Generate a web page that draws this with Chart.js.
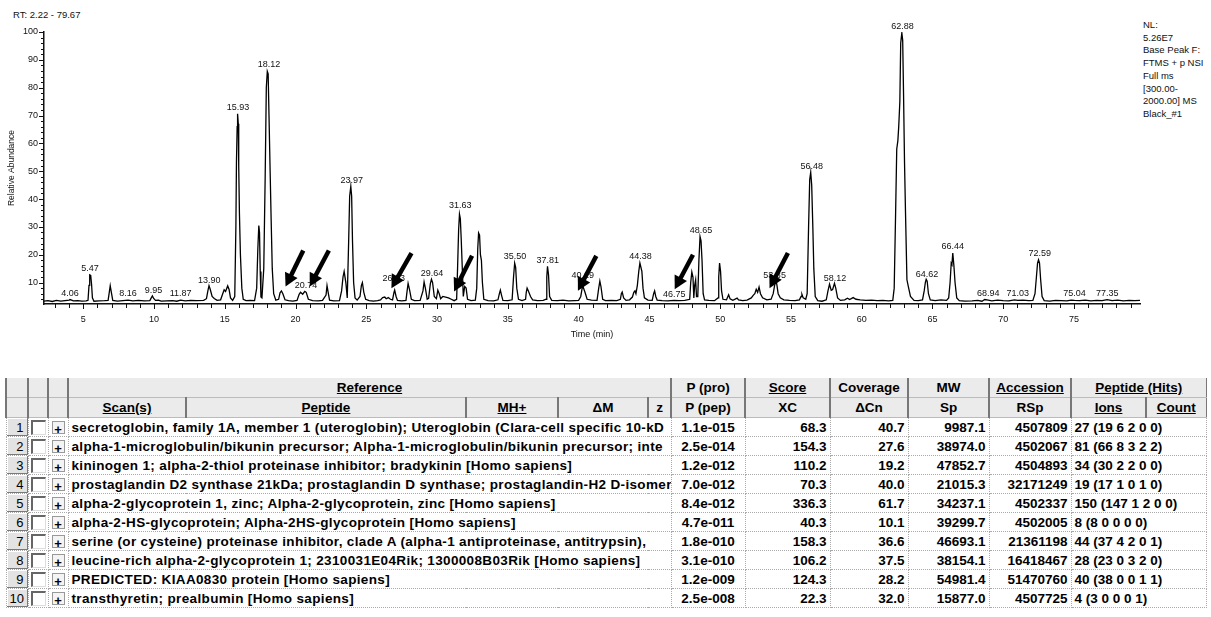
<!DOCTYPE html>
<html>
<head>
<meta charset="utf-8">
<script src="https://cdn.jsdelivr.net/npm/chart.js@4.4.1/dist/chart.umd.min.js"></script>
<style>
    body { margin: 0; background: #fff; width: 1211px; height: 617px; overflow: hidden; position: relative; font-family: "Liberation Sans", Arial, sans-serif; color: #111; }
    #chart-wrap { position: absolute; left: 0; top: 0; width: 1211px; height: 345px; }
    #rt-range { position: absolute; left: 13px; top: 9px; font-size: 9.5px; }
    #nl-info { position: absolute; left: 1143px; top: 19px; font-size: 9.5px; line-height: 12.7px; }
    #prot-table { position: absolute; left: 5px; top: 378px; width: 1200px; border-collapse: collapse; table-layout: fixed; font: bold 13.5px "Liberation Sans", Arial, sans-serif; color: #000; }
    #prot-table td, #prot-table th { padding: 0 3px; white-space: nowrap; overflow: hidden; }
    #prot-table th { background: #ebebeb; height: 19px; border-left: 2px solid #777; border-right: 1px solid #777; border-bottom: 1px solid #bbb; font-weight: bold; text-align: center; }
    #prot-table tr.d td { height: 18px; border: 1px dotted #aaa; }
    #prot-table td.num { background: #e3e3e3; text-align: right; font: 13px "Liberation Sans", Arial, sans-serif; box-shadow: inset -1px -1px #7a7a7a, inset 1px 1px #fff; border: 1px solid #999; padding-right: 4px; }
    #prot-table td.chk, #prot-table td.plus { text-align: center; padding: 0; }
    #prot-table td.name { letter-spacing: 0.35px; }
    .box { display: inline-block; width: 12px; height: 12px; background: #fff; border-top: 2px solid #666; border-left: 2px solid #666; border-right: 1px solid #ddd; border-bottom: 1px solid #ddd; vertical-align: middle; }
    .pl { display: inline-block; width: 11px; height: 11px; line-height: 10px; border: 1px solid #999; background: #f4f4f4; font: bold 13px "Liberation Sans", Arial, sans-serif; vertical-align: middle; }
    td.c { text-align: center; }
    td.r { text-align: right; }
    td.l { text-align: left; }
</style>
</head>
<body>
<div id="rt-range">RT: 2.22 - 79.67</div>
<div id="nl-info">NL:<br>5.26E7<br>Base Peak F:<br>FTMS + p NSI<br>Full ms<br>[300.00-<br>2000.00] MS<br>Black_#1</div>
<div id="chart-wrap"><canvas id="chrom" width="1211" height="345"></canvas></div>
<table id="prot-table"></table>
<script>
/* ── 色谱图数据 (RT 分钟, 相对丰度 %) ── */
const trace = [
    [2.22,3.3],[2.5,3.5],[2.8,3.2],[3.1,3.6],[3.4,3.3],[3.7,3.5],[4.0,3.7],[4.06,3.9],[4.3,3.4],[4.6,3.5],[4.9,3.3],[5.2,3.4],
    [5.33,3.6],[5.4,9],[5.45,12.8],[5.52,12.6],[5.58,9.5],[5.64,4.5],[5.75,3.3],
    [6.1,3.4],[6.5,3.5],[6.75,3.6],[6.82,6],[6.9,8.9],[6.98,6.5],[7.08,3.6],
    [7.4,3.3],[7.8,3.5],[8.16,3.7],[8.5,3.4],[8.9,3.6],[9.3,3.4],[9.7,3.5],
    [9.8,4.5],[9.88,5.2],[9.97,4.3],[10.1,3.6],[10.3,3.7],[10.5,3.3],
    [10.9,3.4],[11.3,3.5],[11.6,3.3],[11.87,3.7],[12.2,3.4],[12.6,3.6],[13.0,3.5],[13.5,3.6],[13.7,4.2],
    [13.8,7],[13.88,8.9],[13.97,7.5],[14.1,5],[14.25,4.3],[14.45,3.6],[14.7,3.8],
    [14.85,6],[14.95,7.4],[15.05,6.8],[15.2,8.8],[15.3,7.5],[15.4,4.5],[15.55,3.6],
    [15.7,5],[15.78,30],[15.82,53],[15.87,66],[15.9,70.6],[15.95,67],[15.98,52],[16.03,35],[16.1,20],[16.2,8],[16.3,4],[16.5,3.5],[16.8,3.6],[17.1,3.5],
    [17.25,8],[17.33,22],[17.4,30.5],[17.45,28],[17.5,14],[17.55,4.8],[17.62,4.5],
    [17.75,15],[17.85,48],[17.93,80],[18.0,85.9],[18.06,85],[18.12,70],[18.2,50],[18.27,33],[18.35,15],[18.45,6],[18.6,3.7],
    [18.8,4],[18.9,6.3],[19.0,7],[19.1,6],[19.25,3.8],[19.5,3.5],[19.8,3.3],[20.1,3.6],
    [20.25,5.8],[20.35,6.5],[20.5,5.8],[20.65,6.8],[20.75,6.5],[20.9,4],[21.2,3.5],[21.6,3.4],[21.9,3.6],
    [22.15,5.5],[22.22,8.9],[22.3,6.5],[22.4,3.7],[22.7,3.4],[23.1,3.5],
    [23.25,7],[23.35,12],[23.43,14],[23.55,10],[23.65,4.5],[23.75,25],[23.82,41],[23.9,44.5],[23.96,41],[24.02,25],[24.1,10],[24.2,4.5],[24.35,3.7],
    [24.55,5],[24.65,9],[24.72,10],[24.82,6.5],[24.95,4],[25.2,3.5],[25.5,3.3],[25.8,3.5],[26.0,3.8],
    [26.15,4.6],[26.3,4.8],[26.4,4.2],[26.55,4.6],[26.7,4],[26.85,3.8],
    [26.95,6.5],[27.0,7.3],[27.1,5],[27.2,3.6],[27.5,3.4],[27.8,3.6],
    [27.88,7],[27.95,9.7],[28.05,7.5],[28.18,4],[28.4,3.5],[28.8,3.6],
    [29.0,7],[29.08,10.2],[29.17,8],[29.3,4],[29.4,4.3],[29.52,9.5],[29.6,11.2],[29.68,10],[29.8,5],[29.95,4.2],[30.05,7.3],[30.15,6],[30.25,4.2],[30.4,5],[30.6,4.8],[30.8,4.5],[31.0,4.0],[31.2,3.5],
    [31.38,4],[31.45,16],[31.52,29],[31.58,34.6],[31.64,33],[31.7,26],[31.78,15],[31.85,5],[31.95,8.6],[32.05,8],[32.15,4],[32.4,3.5],[32.7,3.7],
    [32.8,8],[32.87,22],[32.93,27.8],[33.0,27],[33.06,20],[33.13,18],[33.2,10],[33.3,4],[33.6,3.5],[34.0,3.4],[34.3,3.8],
    [34.4,6],[34.47,7.3],[34.55,5.5],[34.65,3.6],[35.0,3.5],[35.3,3.8],
    [35.4,12],[35.48,17],[35.55,15.5],[35.63,8],[35.75,4],[36.0,3.5],[36.25,4],
    [36.3,6.5],[36.36,8],[36.45,7],[36.6,5],[36.75,3.8],[37.1,3.5],[37.5,3.6],[37.7,4],
    [37.75,12],[37.8,15.8],[37.87,13],[37.95,5],[38.1,3.6],[38.5,3.5],[38.9,3.7],[39.3,3.4],[39.7,3.5],[40.0,3.6],
    [40.15,5],[40.25,8],[40.32,8.4],[40.45,6.5],[40.6,4],[40.9,3.7],[41.3,3.6],
    [41.42,8],[41.5,10.5],[41.58,8.5],[41.7,4],[41.9,3.5],[42.3,3.6],[42.7,3.5],[42.95,4],
    [43.02,6],[43.08,6.6],[43.18,4.5],[43.35,3.6],[43.6,3.8],[43.8,4.8],
    [43.9,6.5],[43.98,7],[44.05,6],[44.15,9],[44.25,14],[44.33,17],[44.4,15.5],[44.47,14],[44.55,8],[44.65,4.5],[44.9,3.7],[45.2,3.6],
    [45.3,6],[45.37,7],[45.45,5],[45.55,3.7],[45.9,3.5],[46.3,3.4],[46.75,3.6],[47.1,3.5],[47.5,3.6],[47.85,4],
    [47.92,10],[48.0,13.8],[48.08,12],[48.14,4.5],[48.2,9],[48.27,11],[48.33,5],[48.42,5],[48.5,18],[48.58,26.5],[48.65,25],[48.72,18],[48.8,6],[48.9,3.8],[49.2,3.6],[49.6,3.5],[49.85,4.5],
    [49.9,12],[49.96,17],[50.03,14],[50.1,7],[50.2,4],[50.45,3.8],[50.6,5.6],[50.7,4.2],[50.9,3.6],[51.2,4.4],[51.3,3.8],[51.6,3.5],[51.9,3.7],[52.2,4.5],
    [52.35,5.5],[52.45,6],[52.55,7.6],[52.65,6.5],[52.75,8.4],[52.85,6],[53.0,4.5],[53.3,3.8],[53.6,4],[53.75,6],
    [53.85,9],[53.93,10.5],[54.0,9.5],[54.1,6],[54.25,4.5],[54.5,3.8],[54.9,3.6],[55.3,3.5],[55.6,3.8],
    [55.72,5],[55.78,5.8],[55.87,4.5],[56.05,4],
    [56.15,6],[56.25,30],[56.33,47],[56.4,49.6],[56.47,45],[56.55,30],[56.62,15],[56.72,5],[56.9,3.5],[57.2,3.3],[57.5,3.8],
    [57.62,7],[57.73,9.4],[57.85,7.2],[57.95,7.5],[58.08,9.7],[58.17,8],[58.3,4.5],[58.5,3.6],[58.8,3.8],[59.0,4.4],[59.15,3.9],[59.4,4.6],[59.6,4],[59.9,3.8],[60.3,3.6],[60.7,3.7],[61.1,3.5],[61.5,3.6],[61.9,3.4],[62.2,3.6],
    [62.3,8],[62.4,35],[62.48,58],[62.56,61],[62.62,66],[62.7,75],[62.76,96],[62.84,99.7],[62.9,97],[62.96,78],[63.03,53],[63.1,35],[63.2,11],[63.3,8.5],[63.45,5],[63.7,3.6],[64.0,3.5],[64.3,3.8],
    [64.42,7],[64.5,10],[64.56,11.2],[64.63,10.5],[64.72,6],[64.85,3.8],[65.2,3.5],[65.6,3.8],[66.0,3.6],[66.15,4.5],
    [66.25,10],[66.33,17],[66.38,16.5],[66.44,20.6],[66.52,16],[66.6,10],[66.72,4.5],[66.9,3.5],[67.3,3.3],[67.8,3.4],[68.2,3.6],[68.5,3.3],[68.7,3.9],[68.94,3.7],[69.2,3.4],[69.6,3.7],[70.0,3.5],[70.4,3.4],[70.8,3.8],[71.03,3.6],[71.4,3.7],[71.8,3.5],[72.1,3.6],[72.25,6],
    [72.35,12],[72.43,17],[72.5,18.2],[72.57,17],[72.65,11],[72.75,5],[72.9,3.5],[73.3,3.3],[73.7,3.6],[74.1,3.5],[74.5,3.4],[74.8,3.7],[75.04,3.6],[75.4,3.5],[75.8,3.7],[76.2,3.4],[76.6,3.6],[77.0,3.5],[77.35,3.9],[77.7,3.5],[78.1,3.7],[78.5,3.4],[78.9,3.6],[79.3,3.5],[79.67,3.6],
];

// 峰标注 (保留时间文字, 峰顶丰度)
const peakLabels = ['4.06','5.47','8.16','9.95','11.87','13.90','15.93','18.12','20.74','23.97','26.93','29.64','31.63','35.50','37.81','40.29','44.38','46.75','48.65','53.85','56.48','58.12','62.88','64.62','66.44','68.94','71.03','72.59','75.04','77.35'];
const peakTops = [3.6, 12.8, 3.6, 4.8, 3.6, 8.4, 70.6, 85.9, 6.6, 44.5, 9.1, 11.0, 35.4, 16.9, 15.6, 10.2, 17.1, 3.5, 26.4, 10.1, 49.5, 9.2, 99.7, 10.6, 20.5, 3.6, 3.6, 18.0, 3.6, 3.6];

// 箭头 (尾 -> 头)
const arrowTailRt = [20.54, 22.35, 28.19, 32.47, 41.25, 48.08, 54.79];
const arrowTailAb = [21.5, 21.5, 20.6, 19.6, 19.6, 20.0, 20.6];
const arrowTipRt = [19.29, 21.0, 26.77, 31.2, 39.95, 46.79, 53.49];
const arrowTipAb = [8.6, 8.6, 8.0, 6.8, 7.1, 7.6, 8.0];

const rtMin = 2.22, rtMax = 79.67;
const abundMin = 2.3, abundMax = 100;

/* ── 蛋白表格数据 ── */
const proteinNames = [
    'secretoglobin, family 1A, member 1 (uteroglobin); Uteroglobin (Clara-cell specific 10-kD',
    'alpha-1-microglobulin/bikunin precursor; Alpha-1-microglobulin/bikunin precursor; inte',
    'kininogen 1; alpha-2-thiol proteinase inhibitor; bradykinin [Homo sapiens]',
    'prostaglandin D2 synthase 21kDa; prostaglandin D synthase; prostaglandin-H2 D-isomer',
    'alpha-2-glycoprotein 1, zinc; Alpha-2-glycoprotein, zinc [Homo sapiens]',
    'alpha-2-HS-glycoprotein; Alpha-2HS-glycoprotein [Homo sapiens]',
    'serine (or cysteine) proteinase inhibitor, clade A (alpha-1 antiproteinase, antitrypsin),',
    'leucine-rich alpha-2-glycoprotein 1; 2310031E04Rik; 1300008B03Rik [Homo sapiens]',
    'PREDICTED: KIAA0830 protein [Homo sapiens]',
    'transthyretin; prealbumin [Homo sapiens]',
];
const pValues = ['1.1e-015', '2.5e-014', '1.2e-012', '7.0e-012', '8.4e-012', '4.7e-011', '1.8e-010', '3.1e-010', '1.2e-009', '2.5e-008'];
const xcScores = ['68.3', '154.3', '110.2', '70.3', '336.3', '40.3', '158.3', '106.2', '124.3', '22.3'];
const coverages = ['40.7', '27.6', '19.2', '40.0', '61.7', '10.1', '36.6', '37.5', '28.2', '32.0'];
const mwValues = ['9987.1', '38974.0', '47852.7', '21015.3', '34237.1', '39299.7', '46693.1', '38154.1', '54981.4', '15877.0'];
const accessions = ['4507809', '4502067', '4504893', '32171249', '4502337', '4502005', '21361198', '16418467', '51470760', '4507725'];
const peptideHits = ['27 (19 6 2 0 0)', '81 (66 8 3 2 2)', '34 (30 2 2 0 0)', '19 (17 1 0 1 0)', '150 (147 1 2 0 0)', '8 (8 0 0 0 0)', '44 (37 4 2 0 1)', '28 (23 0 3 2 0)', '40 (38 0 0 1 1)', '4 (3 0 0 0 1)'];

const colWidths = [22, 20, 20, 118, 280, 92, 90, 23, 74, 85, 78, 81, 82, 75, 60];

const FONT = '"Liberation Sans", Arial, sans-serif';

// 刻度线、峰标注、箭头
const chromExtras = {
    id: 'chromExtras',
    afterDraw(chart) {
        const { ctx, scales: { x, y } } = chart;
        ctx.save();
        ctx.strokeStyle = '#111';
        ctx.fillStyle = '#111';
        ctx.lineWidth = 1;
        for (let t = 3; t <= 79; t++) {
            const px = Math.round(x.getPixelForValue(t)) + 0.5;
            ctx.beginPath();
            ctx.moveTo(px, y.bottom);
            ctx.lineTo(px, y.bottom + (t % 5 === 0 ? 5 : 4));
            ctx.stroke();
        }
        for (let v = 4; v <= 100; v += 2) {
            const py = Math.round(y.getPixelForValue(v)) + 0.5;
            ctx.beginPath();
            ctx.moveTo(x.left, py);
            ctx.lineTo(x.left - (v % 10 === 0 ? 5 : 3), py);
            ctx.stroke();
        }

        ctx.font = '9px ' + FONT;
        ctx.textAlign = 'center';
        ctx.textBaseline = 'alphabetic';
        peakLabels.forEach((lab, i) => {
            ctx.fillText(lab, x.getPixelForValue(parseFloat(lab)), y.getPixelForValue(peakTops[i]) - 4);
        });

        ctx.fillStyle = '#000';
        ctx.strokeStyle = '#000';
        arrowTailRt.forEach((rt, i) => {
            const tx = x.getPixelForValue(rt), ty = y.getPixelForValue(arrowTailAb[i]);
            const hx = x.getPixelForValue(arrowTipRt[i]), hy = y.getPixelForValue(arrowTipAb[i]);
            const ang = Math.atan2(hy - ty, hx - tx);
            const cos = Math.cos(ang), sin = Math.sin(ang);
            const head = 13, half = 7;
            ctx.lineWidth = 4.5;
            ctx.beginPath();
            ctx.moveTo(tx, ty);
            ctx.lineTo(hx - head * 0.8 * cos, hy - head * 0.8 * sin);
            ctx.stroke();
            ctx.beginPath();
            ctx.moveTo(hx, hy);
            ctx.lineTo(hx - head * cos + half * sin, hy - head * sin - half * cos);
            ctx.lineTo(hx - head * cos - half * sin, hy - head * sin + half * cos);
            ctx.closePath();
            ctx.fill();
        });
        ctx.restore();
    },
};

new Chart(document.getElementById('chrom').getContext('2d'), {
    type: 'line',
    data: {
        datasets: [{
            data: trace.map(([t, a]) => ({ x: t, y: a })),
            borderColor: '#000',
            borderWidth: 1.3,
            pointRadius: 0,
            tension: 0,
            fill: false,
        }],
    },
    options: {
        responsive: false,
        animation: false,
        events: [],
        layout: { padding: { left: 0, top: 32, right: 71, bottom: 0 } },
        plugins: { legend: { display: false }, tooltip: { enabled: false } },
        scales: {
            x: {
                type: 'linear',
                min: rtMin,
                max: rtMax,
                afterFit: s => { s.height = 41; },
                grid: { display: false, drawTicks: false },
                border: { display: true, color: '#111', width: 1.5 },
                ticks: {
                    stepSize: 5,
                    autoSkip: false,
                    maxRotation: 0,
                    padding: 10,
                    color: '#111',
                    font: { family: FONT, size: 9 },
                    callback: v => (Math.abs(v - Math.round(v)) < 1e-6 && Math.round(v) % 5 === 0) ? String(Math.round(v)) : '',
                },
                title: { display: true, text: 'Time (min)', color: '#111', font: { family: FONT, size: 9 }, padding: { top: 0, bottom: 5 } },
            },
            y: {
                min: abundMin,
                max: abundMax,
                afterFit: s => { s.width = 44; },
                grid: { display: false, drawTicks: false },
                border: { display: true, color: '#111', width: 1.5 },
                ticks: {
                    stepSize: 10,
                    autoSkip: false,
                    padding: 6,
                    color: '#111',
                    font: { family: FONT, size: 9 },
                    callback: v => (Math.abs(v - Math.round(v)) < 1e-6 && Math.round(v) % 10 === 0 && v >= 10) ? String(Math.round(v)) : '',
                },
                title: { display: true, text: 'Relative Abundance', color: '#111', font: { family: FONT, size: 8.5 }, padding: { top: 7, bottom: 0 } },
            },
        },
    },
    plugins: [chromExtras],
});

/* ── 表格 ── */
function renderTable() {
    const table = document.getElementById('prot-table');
    let html = '<colgroup>' + colWidths.map(w => `<col style="width:${w}px">`).join('') + '</colgroup>';
    html += '<tr><th></th><th></th><th></th><th colspan="5"><u>Reference</u></th><th>P (pro)</th><th><u>Score</u></th>'
        + '<th>Coverage</th><th>MW</th><th><u>Accession</u></th><th colspan="2"><u>Peptide (Hits)</u></th></tr>';
    html += '<tr><th></th><th></th><th></th><th><u>Scan(s)</u></th><th><u>Peptide</u></th><th><u>MH+</u></th><th>ΔM</th><th>z</th>'
        + '<th>P (pep)</th><th>XC</th><th>ΔCn</th><th>Sp</th><th>RSp</th><th><u>Ions</u></th><th><u>Count</u></th></tr>';
    proteinNames.forEach((name, i) => {
        html += `<tr class="d"><td class="num">${i + 1}</td><td class="chk"><span class="box"></span></td>`
            + `<td class="plus"><span class="pl">+</span></td><td colspan="5" class="l name">${name}</td>`
            + `<td class="c">${pValues[i]}</td><td class="r">${xcScores[i]}</td><td class="r">${coverages[i]}</td>`
            + `<td class="r">${mwValues[i]}</td><td class="r">${accessions[i]}</td><td colspan="2" class="l">${peptideHits[i]}</td></tr>`;
    });
    table.innerHTML = html;
}
renderTable();
</script>
</body>
</html>
